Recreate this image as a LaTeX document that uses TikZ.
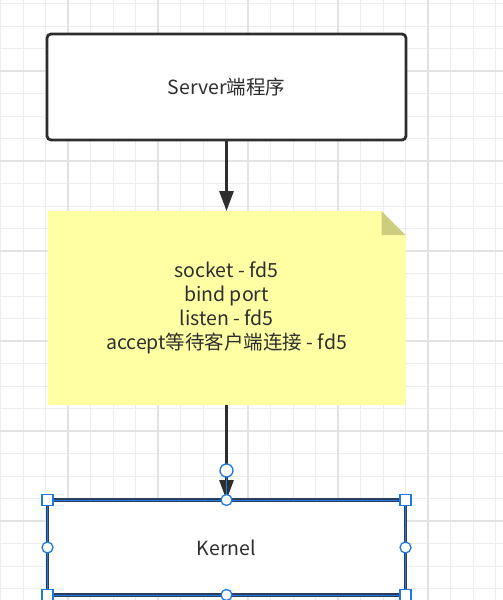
\documentclass[tikz,border=0pt]{standalone}
\usepackage{fontspec}
\newfontfamily\cjk{Noto Sans CJK SC}
\usetikzlibrary{arrows.meta,backgrounds}
\definecolor{inkgray}{HTML}{2E2E2E}
\definecolor{gridminor}{HTML}{EDEDED}
\definecolor{gridmajor}{HTML}{E3E3E3}
\definecolor{notefill}{HTML}{FFFFA3}
\definecolor{notefold}{HTML}{CDCD80}
\definecolor{selblue}{HTML}{1E78E6}
\definecolor{kernelline}{HTML}{2B3F5A}
\tikzset{
  minorgrid/.style={draw=gridminor, line width=1pt},
  majorgrid/.style={draw=gridmajor, line width=1.6pt},
  txt/.style={font=\cjk\fontsize{19.5}{24}\selectfont, text=inkgray, align=center},
  serverbox/.style={txt, draw=inkgray, line width=2.8pt, rounded corners=4pt, fill=white,
    minimum width=359pt, minimum height=106pt},
  notebox/.style={txt, outer sep=0pt, minimum width=358pt, minimum height=194pt},
  kernelbox/.style={txt, draw=kernelline, line width=3.5pt, fill=white, outer sep=0pt,
    minimum width=358pt, minimum height=95pt},
  link/.style={draw=inkgray, line width=2.8pt, -{Triangle[length=20pt,width=14pt]}},
  handlesq/.style={draw=selblue, line width=1.3pt, fill=white, minimum size=11pt, inner sep=0pt},
  handledot/.style={circle, draw=selblue, line width=1.3pt, fill=white, minimum size=11pt, inner sep=0pt},
}
\begin{document}
\begin{tikzpicture}[x=1pt,y=-1pt]
\useasboundingbox (0,0) rectangle (503,600);
% grid
\begin{pgfonlayer}{background}
  \fill[white] (0,0) rectangle (503,600);
  \foreach \i in {0,...,22} \draw[minorgrid] (0.5+22.5*\i,0) -- (0.5+22.5*\i,600);
  \foreach \j in {0,...,26} \draw[minorgrid] (0,3.5+22.5*\j) -- (503,3.5+22.5*\j);
  \foreach \i in {68,158,...,428} \draw[majorgrid] (\i,0) -- (\i,600);
  \foreach \j in {71,161,...,521} \draw[majorgrid] (0,\j) -- (503,\j);
\end{pgfonlayer}

\node[serverbox] (server) at (226.5,87) {Server端程序};
\node[notebox] (notes) at (226.5,308) {socket - fd5\\bind port\\listen - fd5\\accept等待客户端连接 - fd5};
\node[kernelbox] (kernel) at (226.5,547.5) {Kernel};

% note with folded corner
\begin{pgfonlayer}{background}
  \fill[notefill] (notes.south west) -- (notes.north west) -- ([xshift=-24pt]notes.north east)
    -- ([yshift=-24pt]notes.north east) -- (notes.south east) -- cycle;
  \fill[notefold] ([xshift=-24pt]notes.north east) -- ([xshift=-24pt,yshift=-24pt]notes.north east)
    -- ([yshift=-24pt]notes.north east) -- cycle;
\end{pgfonlayer}

\draw[link] (server) -- (notes);
\draw[link] (notes) -- (kernel);

% selection handles
\node[handledot, minimum size=13pt] (hinge) at (226.5,470.5) {};
\draw[selblue, line width=1pt] (hinge) -- (kernel.north);
\draw[selblue, line width=1pt] (kernel.north west) rectangle (kernel.south east);
\foreach \a/\n in {north west/nw, north east/ne, south west/sw, south east/se}
  \node[handlesq] (sq-\n) at (kernel.\a) {};
\foreach \a/\n in {north/n, south/s, east/e, west/w}
  \node[handledot] (dot-\n) at (kernel.\a) {};
\end{tikzpicture}
\end{document}
